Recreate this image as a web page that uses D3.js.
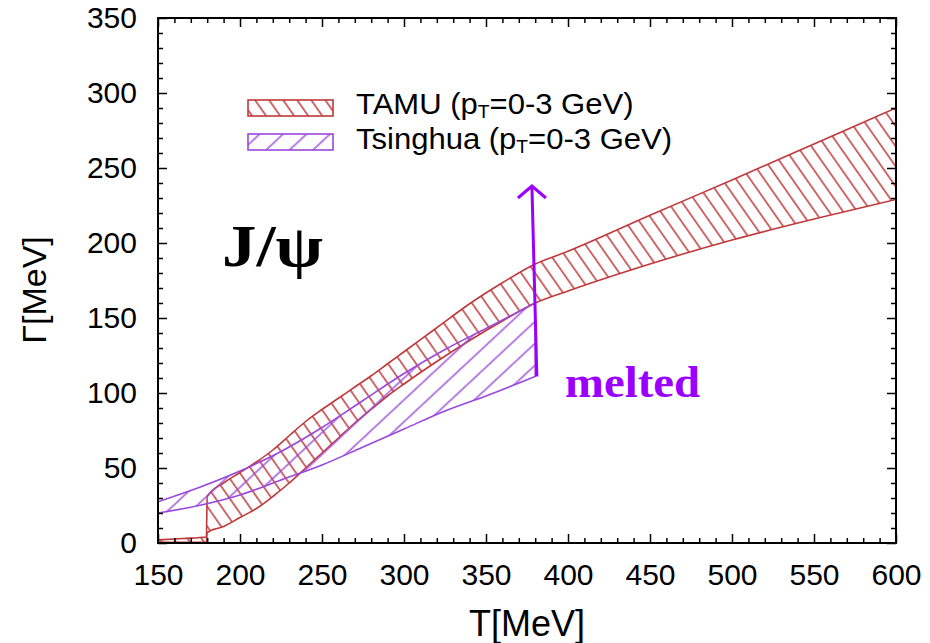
<!DOCTYPE html>
<html>
<head>
<meta charset="utf-8">
<script src="https://cdn.jsdelivr.net/npm/d3@7"></script>
<style>
  html, body { margin: 0; padding: 0; background: #fff; }
  svg { display: block; }
  .tick text { font-family: "Liberation Sans", Arial, sans-serif; fill: #000; }
</style>
</head>
<body>
<svg id="chart" width="930" height="643"></svg>
<script>
// J/psi thermal width Gamma(T): TAMU and Tsinghua model bands (pT = 0-3 GeV)
const tamuT     = [150, 165, 179.5, 180, 190, 200, 210, 220, 230, 240, 250, 260, 270, 280, 290, 300, 320, 340, 360, 380, 400, 450, 500, 550, 600];
const tamuUpper = [2, 3, 4, 31, 40, 47, 54, 62, 71.5, 81, 89, 96.5, 104, 111.5, 119.5, 127.5, 143.5, 159.5, 173.5, 186, 194.5, 218.5, 242, 266, 290];
const tamuLower = [0.5, 0.5, 0.5, 7, 11, 17, 23, 31, 40, 50, 60, 70, 80, 89, 98, 106, 121, 135, 148, 160, 168, 186, 202, 216, 229];

const tsinghuaT     = [150, 175, 200, 225, 250, 275, 300, 325, 350, 380];
const tsinghuaUpper = [27.5, 37, 48, 61, 77, 95, 113, 129, 143, 160];
const tsinghuaLower = [20, 25, 32, 42, 52, 64, 76, 88, 98, 111];

const xTickValues = [150, 200, 250, 300, 350, 400, 450, 500, 550, 600];
const yTickValues = [0, 50, 100, 150, 200, 250, 300, 350];
const xMinorValues = d3.range(150, 601, 10).filter(v => v % 50 !== 0);
const yMinorValues = d3.range(0, 351, 10).filter(v => v % 50 !== 0);

const seriesNames = ["TAMU", "Tsinghua"];
const legendSuffix = "=0-3 GeV)";

// "melted" arrow: from the end of the Tsinghua band upward
const arrowFrom = [381, 111];
const arrowTo   = [378, 238];

const colors = { TAMU: "#c0393a", Tsinghua: "#9a48dc", arrow: "#9b00ff" };

const svg = d3.select("#chart");
const plotLeft = 158, plotRight = 896, plotTop = 18, plotBottom = 543;
const x = d3.scaleLinear().domain([150, 600]).range([plotLeft, plotRight]);
const y = d3.scaleLinear().domain([0, 350]).range([plotBottom, plotTop]);

// hatch patterns
const defs = svg.append("defs");
function hatch(id, color, spacing, angle, sw) {
  const p = defs.append("pattern")
    .attr("id", id)
    .attr("patternUnits", "userSpaceOnUse")
    .attr("width", spacing).attr("height", spacing)
    .attr("patternTransform", `rotate(${angle})`);
  p.append("line")
    .attr("x1", spacing / 2).attr("y1", -1)
    .attr("x2", spacing / 2).attr("y2", spacing + 1)
    .attr("stroke", color).attr("stroke-width", sw);
}
hatch("hatchTAMU", colors.TAMU, 11.5, -35, 1.5);
hatch("hatchTsinghua", colors.Tsinghua, 16, 47, 1.4);

defs.append("clipPath").attr("id", "plotClip")
  .append("rect").attr("x", plotLeft).attr("y", plotTop)
  .attr("width", plotRight - plotLeft).attr("height", plotBottom - plotTop);

const plot = svg.append("g").attr("clip-path", "url(#plotClip)");

function band(ts, lo, hi) {
  return ts.map((t, i) => ({ t, lo: lo[i], hi: hi[i] }));
}
const area = d3.area()
  .x(d => x(d.t))
  .y0(d => y(d.lo))
  .y1(d => y(d.hi))
  .curve(d3.curveMonotoneX);

// hatched band with its outline (closed, so end edges are drawn too)
function drawBand(data, name) {
  plot.append("path")
    .datum(data)
    .attr("d", area)
    .attr("fill", `url(#hatch${name})`)
    .attr("stroke", colors[name])
    .attr("stroke-width", 1.6)
    .attr("stroke-linejoin", "round");
}
drawBand(band(tamuT, tamuLower, tamuUpper), "TAMU");
drawBand(band(tsinghuaT, tsinghuaLower, tsinghuaUpper), "Tsinghua");

// axes with inward ticks on all four sides
const fontSize = 30;
function styleAxis(g) {
  g.select(".domain").remove();
  g.selectAll(".tick line").attr("stroke", "#000").attr("stroke-width", 1.5);
  g.selectAll(".tick text").attr("font-size", fontSize);
}
svg.append("g").attr("transform", `translate(0,${plotBottom})`)
  .call(d3.axisBottom(x).tickValues(xTickValues).tickFormat(d3.format("d"))
    .tickSizeInner(-9).tickSizeOuter(0).tickPadding(21))
  .call(styleAxis);
svg.append("g").attr("transform", `translate(0,${plotBottom})`)
  .call(d3.axisBottom(x).tickValues(xMinorValues).tickFormat("").tickSizeInner(-5).tickSizeOuter(0))
  .call(styleAxis);
svg.append("g").attr("transform", `translate(0,${plotTop})`)
  .call(d3.axisTop(x).tickValues(xTickValues).tickFormat("").tickSizeInner(-9).tickSizeOuter(0))
  .call(styleAxis);
svg.append("g").attr("transform", `translate(0,${plotTop})`)
  .call(d3.axisTop(x).tickValues(xMinorValues).tickFormat("").tickSizeInner(-5).tickSizeOuter(0))
  .call(styleAxis);
svg.append("g").attr("transform", `translate(${plotLeft},0)`)
  .call(d3.axisLeft(y).tickValues(yTickValues).tickFormat(d3.format("d"))
    .tickSizeInner(-9).tickSizeOuter(0).tickPadding(21))
  .call(styleAxis);
svg.append("g").attr("transform", `translate(${plotLeft},0)`)
  .call(d3.axisLeft(y).tickValues(yMinorValues).tickFormat("").tickSizeInner(-5).tickSizeOuter(0))
  .call(styleAxis);
svg.append("g").attr("transform", `translate(${plotRight},0)`)
  .call(d3.axisRight(y).tickValues(yTickValues).tickFormat("").tickSizeInner(-9).tickSizeOuter(0))
  .call(styleAxis);
svg.append("g").attr("transform", `translate(${plotRight},0)`)
  .call(d3.axisRight(y).tickValues(yMinorValues).tickFormat("").tickSizeInner(-5).tickSizeOuter(0))
  .call(styleAxis);

svg.append("rect")
  .attr("x", plotLeft).attr("y", plotTop)
  .attr("width", plotRight - plotLeft).attr("height", plotBottom - plotTop)
  .attr("fill", "none").attr("stroke", "#000").attr("stroke-width", 2);

// axis titles
svg.append("text")
  .attr("x", (plotLeft + plotRight) / 2).attr("y", 636)
  .attr("text-anchor", "middle")
  .attr("font-family", "Liberation Sans, Arial, sans-serif")
  .attr("font-size", 36)
  .text("T[MeV]");
svg.append("text")
  .attr("transform", "translate(46,290) rotate(-90)")
  .attr("text-anchor", "middle")
  .attr("font-family", "Liberation Sans, Arial, sans-serif")
  .attr("font-size", 34)
  .text("Γ[MeV]");

// legend
const legend = svg.append("g").attr("transform", "translate(248,100)");
seriesNames.forEach((name, i) => {
  const g = legend.append("g").attr("transform", `translate(0,${i * 34})`);
  g.append("rect")
    .attr("x", 0).attr("y", 0).attr("width", 85).attr("height", 16)
    .attr("fill", `url(#hatch${name})`)
    .attr("stroke", colors[name]).attr("stroke-width", 1.6);
  const t = g.append("text")
    .attr("transform", `translate(108,${14 + i})` + " scale(1.07,1)")
    .attr("font-family", "Liberation Sans, Arial, sans-serif")
    .attr("font-size", 29);
  t.append("tspan").text(`${name} (p`);
  t.append("tspan").attr("font-size", 18).attr("dy", 4).text("T");
  t.append("tspan").attr("dy", -4).text(legendSuffix);
});

// particle label
svg.append("text")
  .attr("x", 222).attr("y", 266)
  .attr("font-family", "Liberation Serif, Times New Roman, serif")
  .attr("font-weight", "bold")
  .attr("font-size", 60)
  .attr("textLength", 101)
  .attr("lengthAdjust", "spacingAndGlyphs")
  .text("J/ψ");

// melted arrow and label
svg.append("line")
  .attr("x1", x(arrowFrom[0])).attr("y1", y(arrowFrom[1]))
  .attr("x2", x(arrowTo[0])).attr("y2", y(arrowTo[1]))
  .attr("stroke", colors.arrow).attr("stroke-width", 3);
const ax = x(arrowTo[0]), ay = y(arrowTo[1]);
svg.append("path")
  .attr("d", `M${ax - 14},${ay + 12} L${ax},${ay} L${ax + 14},${ay + 12}`)
  .attr("fill", "none")
  .attr("stroke", colors.arrow).attr("stroke-width", 3);
svg.append("text")
  .attr("x", 565).attr("y", 397)
  .attr("font-family", "Liberation Serif, Times New Roman, serif")
  .attr("font-weight", "bold")
  .attr("font-size", 44)
  .attr("textLength", 135)
  .attr("lengthAdjust", "spacingAndGlyphs")
  .attr("fill", colors.arrow)
  .text("melted");
</script>
</body>
</html>
